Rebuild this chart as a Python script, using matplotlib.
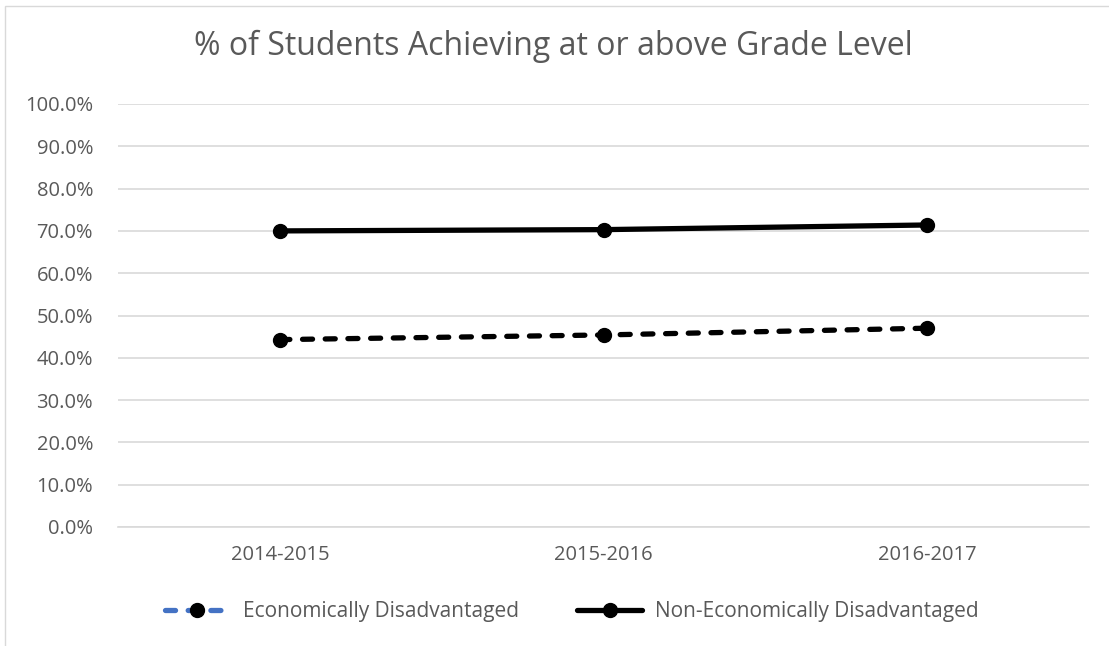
import matplotlib
matplotlib.use("Agg")
import matplotlib.pyplot as plt
from matplotlib.lines import Line2D
from matplotlib.patches import Rectangle
from matplotlib.ticker import PercentFormatter

# data
years = ["2014-2015", "2015-2016", "2016-2017"]
econ_dis = [44.3, 45.4, 47.0]
non_econ_dis = [70.0, 70.3, 71.4]
y_ticks = [0, 10, 20, 30, 40, 50, 60, 70, 80, 90, 100]

plt.rcParams['font.family'] = ['Open Sans', 'DejaVu Sans']

W, H = 1109, 646
fig = plt.figure(figsize=(W / 100, H / 100), dpi=100)
ax = fig.add_axes([118 / W, 1 - 527 / H, (1089 - 118) / W, (527 - 104) / H])

# outer chart border (runs past right/bottom edge of image)
fig.patches.append(Rectangle((5 / W, -0.1), 1.2, 1 - 6 / H + 0.1, transform=fig.transFigure,
                             fill=False, edgecolor='#D9D9D9', linewidth=1.0))

x = range(len(years))
ax.plot(x, econ_dis, color='black', linewidth=3.8, linestyle=(0, (1.9, 2.4)),
        dash_capstyle='round', marker='o', markersize=10, zorder=3)
ax.plot(x, non_econ_dis, color='black', linewidth=3.8, linestyle='-',
        solid_capstyle='round', marker='o', markersize=10, zorder=3)

ax.set_xlim(-0.5, len(years) - 0.5)
ax.set_ylim(0, 100)
ax.set_yticks(y_ticks)
ax.yaxis.set_major_formatter(PercentFormatter(decimals=1))
ax.set_xticks(list(x))
ax.set_xticklabels(years)
ax.grid(axis='y', color='#D9D9D9', linewidth=1.2)
ax.set_axisbelow(True)
for s in ['top', 'right', 'left']:
    ax.spines[s].set_visible(False)
ax.spines['bottom'].set_color('#D9D9D9')
ax.spines['bottom'].set_linewidth(1.2)
ax.tick_params(axis='both', length=0, labelsize=14.5, labelcolor='#595959')
ax.tick_params(axis='y', pad=18)
ax.tick_params(axis='x', pad=13)

fig.text(553 / W, 1 - 46 / H, "% of Students Achieving at or above Grade Level",
         ha='center', va='center', fontsize=23, color='#595959')

handles = [
    Line2D([], [], color='#4472C4', linewidth=3.8, linestyle=(0, (1.9, 2.4)),
           dash_capstyle='round', marker='o', markersize=10,
           markerfacecolor='black', markeredgecolor='black'),
    Line2D([], [], color='black', linewidth=3.8, solid_capstyle='round',
           marker='o', markersize=10),
]
fig.legend(handles, ["Economically Disadvantaged", "Non-Economically Disadvantaged"],
           loc='center', bbox_to_anchor=(572 / W, 1 - 612 / H), ncol=2, frameon=False,
           fontsize=15, labelcolor='#595959', handlelength=3.1, handletextpad=0.65,
           columnspacing=2.8)

fig.savefig("out.png", dpi=100, facecolor='white')
